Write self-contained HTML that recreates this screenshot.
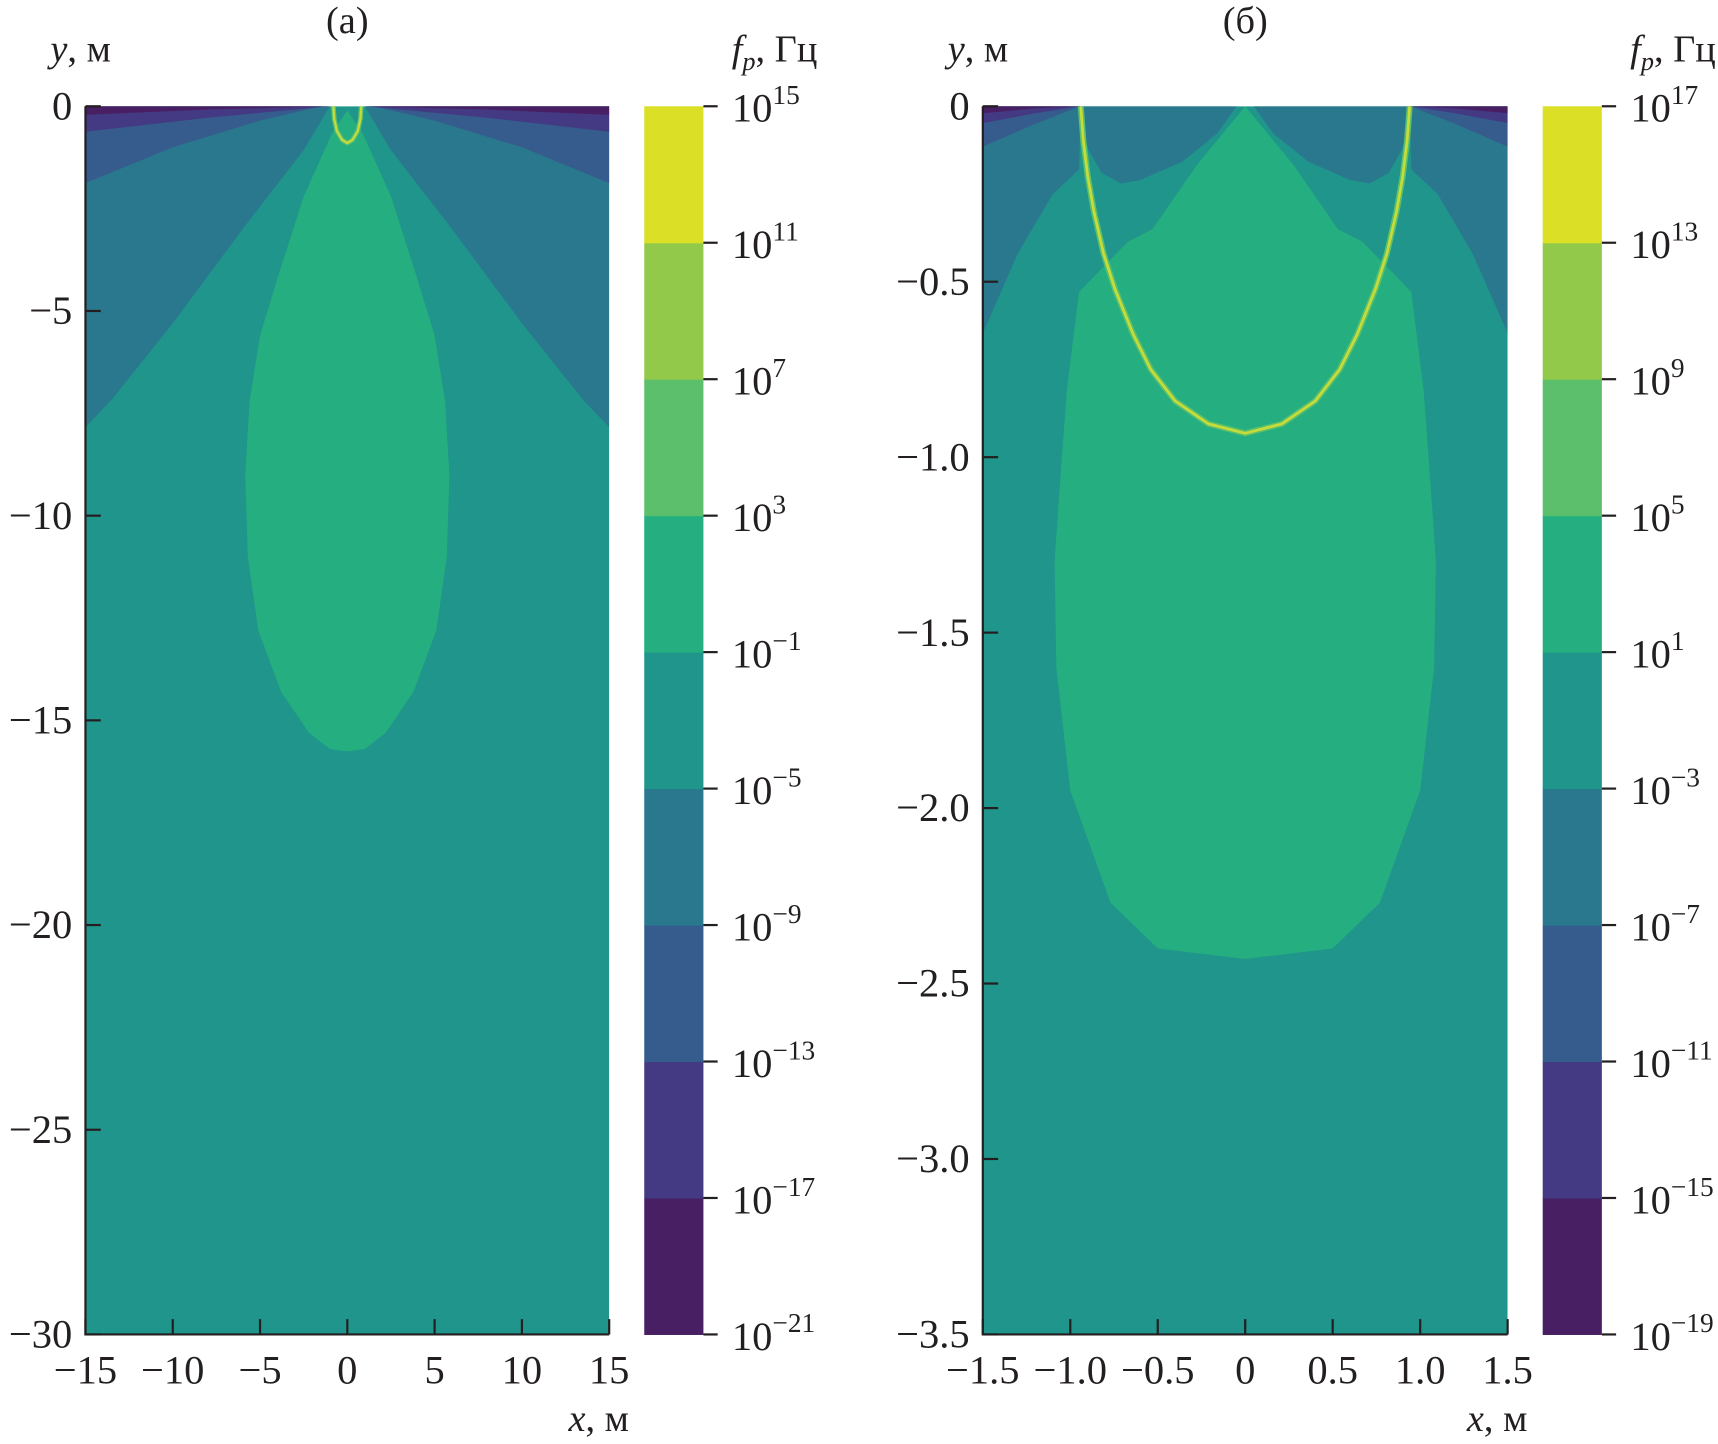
<!DOCTYPE html>
<html><head><meta charset="utf-8"><style>
html,body{margin:0;padding:0;background:#fff;}
svg{display:block;}
text{font-family:"Liberation Serif","DejaVu Serif",serif;fill:#231f20;}
</style></head><body>
<svg id="fig" width="1718" height="1444" viewBox="0 0 1568 1318" preserveAspectRatio="none" xmlns="http://www.w3.org/2000/svg"></svg>
<script>
// ---- data ----
const levelColors = ["#481f63","#443a83","#355c8c","#2a788e","#1f958b","#25ae80","#5bbf6c","#93c94a","#dbe027"];
const cbExpA = [-21,-17,-13,-9,-5,-1,3,7,11,15];
const cbExpB = [-19,-15,-11,-7,-3,1,5,9,13,17];
const xTicksA = [-15,-10,-5,0,5,10,15];
const yTicksA = [0,-5,-10,-15,-20,-25,-30];
const xTicksB = [-1.5,-1.0,-0.5,0,0.5,1.0,1.5];
const yTicksB = [0,-0.5,-1.0,-1.5,-2.0,-2.5,-3.0,-3.5];
// contour boundaries (right half, mirrored), data coordinates [x,y]
const aLevel1 = [[15,-0.21],[8,-0.08],[1,0]];
const aLevel2 = [[15,-0.62],[8,-0.28],[1,0]];
const aLevel3 = [[15,-1.88],[10,-1.0],[5,-0.35],[1.5,0]];
const aLevel4 = [[15,-7.84],[13.5,-7.17],[10,-5.3],[6,-3.0],[2.5,-1.07],[1,0]];
const aGreen = [[0,-0.1],[0.88,-0.66],[2.5,-2.2],[4,-4.2],[5.0,-5.6],[5.6,-7.2],[5.85,-9],[5.7,-11],[5.1,-12.8],[3.8,-14.3],[2.2,-15.3],[1,-15.7],[0,-15.76]];
const aArc = [[0.8,0],[0.75,-0.3],[0.6,-0.6],[0.3,-0.82],[0,-0.9]];
const bLevel1 = [[1.5,-0.02],[1.2,-0.006],[0.94,0]];
const bLevel2 = [[1.5,-0.048],[1.2,-0.02],[0.94,0]];
const bLevel3 = [[1.5,-0.115],[1.2,-0.05],[0.94,0]];
const bLevel4Out = [[1.5,-0.647],[1.3,-0.42],[1.1,-0.25],[0.95,-0.18],[0.94,0]];
const bLevel4In = [[0.94,0],[0.9,-0.12],[0.82,-0.19],[0.71,-0.22],[0.6,-0.21],[0.36,-0.158],[0.16,-0.077],[0.05,0]];
const bGreen = [[0,0],[0.28,-0.17],[0.53,-0.35],[0.67,-0.386],[0.835,-0.47],[0.95,-0.53],[1.02,-0.81],[1.07,-1.15],[1.09,-1.3],[1.08,-1.6],[1.0,-1.95],[0.77,-2.27],[0.5,-2.4],[0,-2.43]];
const bArc = [[0.94,0],[0.925,-0.1],[0.9,-0.2],[0.865,-0.3],[0.81,-0.42],[0.745,-0.52],[0.64,-0.65],[0.54,-0.75],[0.4,-0.84],[0.21,-0.905],[0,-0.932]];

const svg = document.getElementById('fig');
const NS = 'http://www.w3.org/2000/svg';
function mk(tag, attrs, parent){const e=document.createElementNS(NS,tag);for(const k in attrs)e.setAttribute(k,attrs[k]);(parent||svg).appendChild(e);return e;}

function panel(cfg){
  const g = mk('g',{});
  
  
  const L=cfg.left,R=cfg.right,T=97,B=1218;
  const sx = v => L + (v - cfg.xmin)/(cfg.xmax-cfg.xmin)*(R-L);
  const sy = v => T + (0 - v)/(0 - cfg.ymin)*(B-T);
  const clipId = 'clip'+cfg.name;
  const cp = mk('clipPath',{id:clipId},g); mk('rect',{x:L,y:T,width:R-L,height:B-T},cp);
  const plot = mk('g',{'clip-path':'url(#'+clipId+')'},g);
  
  
  const bg = mk('rect',{x:L,y:T,width:R-L,height:B-T,fill:levelColors[4]},plot);
  
  
  function sideRegion(pts,color,name){
    const left = pts.map(p=>[-p[0],p[1]]);
    const dL = 'M'+sx(cfg.xmin)+','+sy(0)+'L'+left.map(p=>sx(p[0]).toFixed(1)+','+sy(p[1]).toFixed(1)).join('L')+'Z';
    const dR = 'M'+sx(cfg.xmax)+','+sy(0)+'L'+pts.map(p=>sx(p[0]).toFixed(1)+','+sy(p[1]).toFixed(1)).join('L')+'Z';
    for(const d of [dL,dR]){const e=mk('path',{d:d,fill:color},plot);
      
      }
  }
  function closed(pts,color,name){
    const left = pts.map(p=>[-p[0],p[1]]).reverse();
    const all = pts.concat(left);
    const d='M'+all.map(p=>sx(p[0]).toFixed(1)+','+sy(p[1]).toFixed(1)).join('L')+'Z';
    const e=mk('path',{d:d,fill:color},plot);
    
    
  }
  function lobes(pts,color,name){
    for(const s of [1,-1]){
      const d='M'+pts.map(p=>sx(s*p[0]).toFixed(1)+','+sy(p[1]).toFixed(1)).join('L')+'Z';
      const e=mk('path',{d:d,fill:color},plot);
      
      
    }
  }
  cfg.draw({sideRegion,closed,lobes});
  // arc
  const arcPts = cfg.arc.concat(cfg.arc.slice(0,-1).reverse().map(p=>[-p[0],p[1]]));
  const ad = 'M'+arcPts.map(p=>sx(p[0]).toFixed(1)+','+sy(p[1]).toFixed(1)).join('L');
  const h = mk('path',{d:ad,fill:'none',stroke:levelColors[6],'stroke-width':cfg.arcW*2.2,'stroke-linejoin':'round'},plot);
   
  const a = mk('path',{d:ad,fill:'none',stroke:'#c7dc38','stroke-width':cfg.arcW,'stroke-linejoin':'round'},plot);
   
  // axes
  const ax = mk('path',{d:`M${L},${T}V${B}H${R}`,fill:'none',stroke:'#231f20','stroke-width':2},g);
   
  cfg.xt.forEach(v=>{
    const x=sx(v);
    const t=mk('line',{x1:x,x2:x,y1:B,y2:B-14,stroke:'#231f20','stroke-width':2},g);
     
    const lab = mk('text',{x:x,y:B+45,'font-size':37,'text-anchor':'middle'},g);
    lab.textContent = (v<0?'\u2212':'')+ (cfg.dec? Math.abs(v).toFixed(v===0?0:1):Math.abs(v));
     
  });
  cfg.yt.forEach(v=>{
    const y=sy(v);
    const t=mk('line',{x1:L,x2:L+14,y1:y,y2:y,stroke:'#231f20','stroke-width':2},g);
     
    const lab = mk('text',{x:L-12,y:y+12,'font-size':37,'text-anchor':'end'},g);
    lab.textContent = (v<0?'\u2212':'')+(cfg.dec? Math.abs(v).toFixed(v===0?0:1):Math.abs(v));
     
  });
  const yt = mk('text',{x:L-32,y:56,'font-size':35},g);
  yt.innerHTML='<tspan font-style="italic">y</tspan>, м';
   
  const xt = mk('text',{x:R+18,y:1306,'font-size':35,'text-anchor':'end'},g);
  xt.innerHTML='<tspan font-style="italic">x</tspan>, м';
   
  const pt = mk('text',{x:(L+R)/2,y:30,'font-size':35,'text-anchor':'middle'},g);
  pt.textContent = cfg.title;
   
  // colorbar
  const cbL=cfg.cb, cbW=54, n=levelColors.length, bh=(B-T)/n;
  levelColors.forEach((c,i)=>{
    const r=mk('rect',{x:cbL,y:B-(i+1)*bh,width:cbW,height:bh+0.5,fill:c},g);
     
  });
  cfg.cbExp.forEach((e,i)=>{
    const y=B-i*bh;
    const t=mk('line',{x1:cbL+cbW,x2:cbL+cbW+13,y1:y,y2:y,stroke:'#231f20','stroke-width':2},g);
     
    const lab=mk('text',{x:cbL+cbW+26,y:y+14,'font-size':37},g);
    lab.innerHTML='10<tspan dy="-16" font-size="25">'+(e<0?'\u2212':'')+Math.abs(e)+'</tspan>';
     
  });
  const ct=mk('text',{x:cbL+cbW+104,y:56,'font-size':35,'text-anchor':'end'},g);
  ct.innerHTML='<tspan font-style="italic">f</tspan><tspan font-style="italic" font-size="24" dy="8">p</tspan><tspan dy="-8">, Гц</tspan>';
   
}

panel({name:'panel-a',title:'(а)',left:78,right:556,cb:588,xmin:-15,xmax:15,ymin:-30,xt:xTicksA,yt:yTicksA,dec:false,cbExp:cbExpA,arc:aArc,arcW:2,
  draw:({sideRegion,closed})=>{
    sideRegion(aLevel4,levelColors[3],'contour-level-4');
    sideRegion(aLevel3,levelColors[2],'contour-level-3');
    sideRegion(aLevel2,levelColors[1],'contour-level-2');
    sideRegion(aLevel1,levelColors[0],'contour-level-1');
    closed(aGreen,levelColors[5],'contour-level-6');
  }});
panel({name:'panel-b',title:'(б)',left:897,right:1376,cb:1408,xmin:-1.5,xmax:1.5,ymin:-3.5,xt:xTicksB,yt:yTicksB,dec:true,cbExp:cbExpB,arc:bArc,arcW:2.5,
  draw:({sideRegion,closed,lobes})=>{
    sideRegion(bLevel4Out,levelColors[3],'contour-level-4');
    lobes(bLevel4In,levelColors[3],'contour-level-4-inner');
    sideRegion(bLevel3,levelColors[2],'contour-level-3');
    sideRegion(bLevel2,levelColors[1],'contour-level-2');
    sideRegion(bLevel1,levelColors[0],'contour-level-1');
    closed(bGreen,levelColors[5],'contour-level-6');
  }});
</script>
</body></html>
